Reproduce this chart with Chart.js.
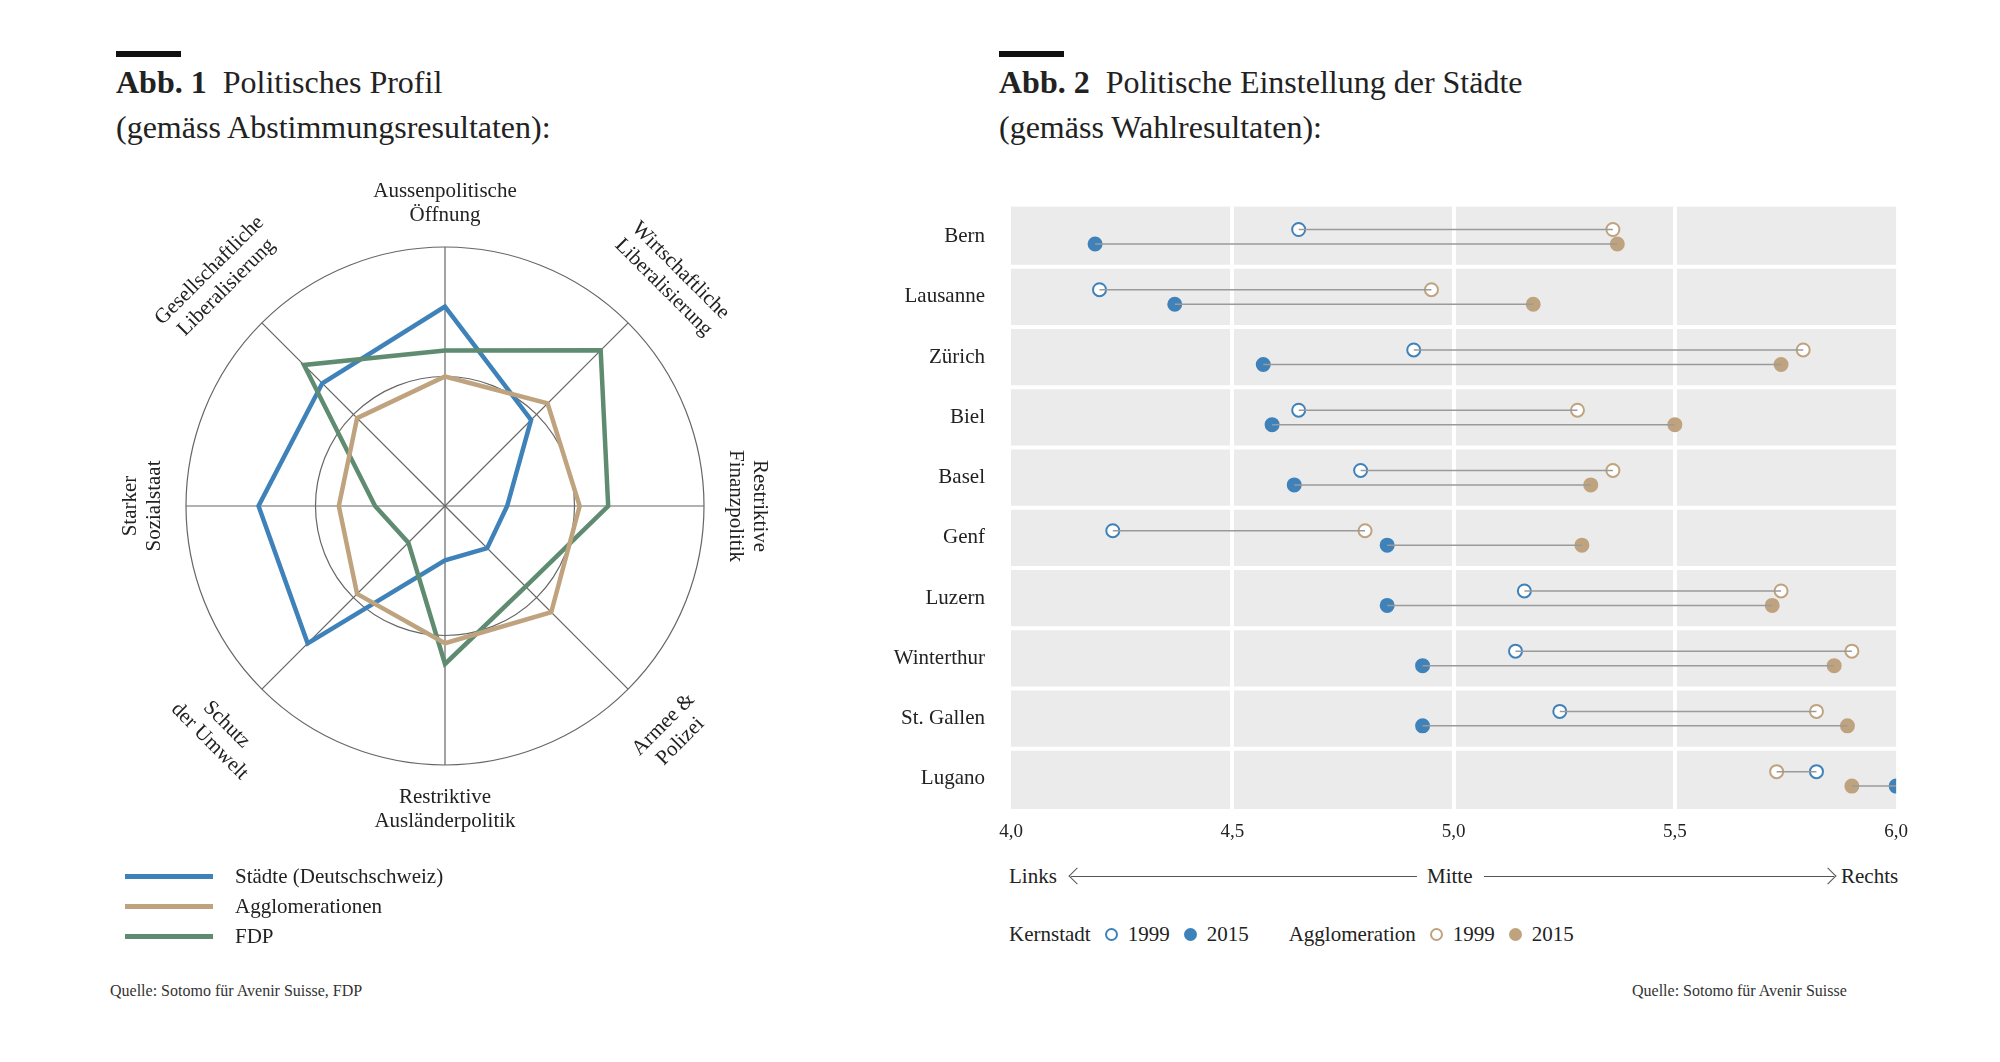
<!DOCTYPE html>
<html><head><meta charset="utf-8">
<script src="https://cdn.jsdelivr.net/npm/chart.js@4"></script>
<style>
body{margin:0;width:2000px;height:1062px;background:#fff;font-family:"Liberation Serif",serif;color:#222;position:relative;overflow:hidden}
.abs{position:absolute}
.bar{position:absolute;height:6px;width:65px;background:#111}
.title{font-size:32px;line-height:45px}
.title b{font-weight:bold}
.leg{font-size:21px;display:flex;align-items:center;height:30px}
.leg i{display:inline-block;width:88px;height:5px;margin-right:22px}
.src{font-size:16px;color:#333}
.dot{display:inline-block;width:13px;height:13px;border-radius:50%;margin:0 10px 0 14px;box-sizing:border-box}
</style></head><body>
<div class="bar" style="left:116px;top:51px"></div>
<div class="abs title" style="left:116px;top:60px"><b>Abb. 1</b>&nbsp; Politisches Profil<br>(gemäss Abstimmungsresultaten):</div>
<div class="bar" style="left:999px;top:51px"></div>
<div class="abs title" style="left:999px;top:60px"><b>Abb. 2</b>&nbsp; Politische Einstellung der Städte<br>(gemäss Wahlresultaten):</div>

<div class="abs" style="left:70px;top:136px;width:750px;height:760px"><canvas id="radar"></canvas></div>
<div class="abs" style="left:880px;top:176px;width:1040px;height:684px"><canvas id="dumb"></canvas></div>

<div class="abs" style="left:125px;top:861px">
  <div class="leg"><i style="background:#3f82b9"></i>Städte (Deutschschweiz)</div>
  <div class="leg"><i style="background:#bfa37f"></i>Agglomerationen</div>
  <div class="leg"><i style="background:#5f8c70"></i>FDP</div>
</div>
<div class="abs src" style="left:110px;top:982px">Quelle: Sotomo für Avenir Suisse, FDP</div>
<div class="abs src" style="left:1632px;top:982px">Quelle: Sotomo für Avenir Suisse</div>

<div class="abs" style="left:1009px;top:864px;width:893px;height:26px;font-size:21px">
  <span class="abs" style="left:0;top:0">Links</span>
  <span class="abs" style="left:62px;top:12px;width:346px;border-top:1px solid #555"></span>
  <span class="abs" style="left:62px;top:6px;width:11px;height:11px;border-left:1px solid #555;border-bottom:1px solid #555;transform:rotate(45deg)"></span>
  <span class="abs" style="left:418px;top:0">Mitte</span>
  <span class="abs" style="left:475px;top:12px;width:350px;border-top:1px solid #555"></span>
  <span class="abs" style="left:813px;top:6px;width:11px;height:11px;border-right:1px solid #555;border-top:1px solid #555;transform:rotate(45deg)"></span>
  <span class="abs" style="left:832px;top:0">Rechts</span>
</div>
<div class="abs" style="left:1009px;top:922px;font-size:21px;display:flex;align-items:center">
  Kernstadt<span class="dot" style="border:2px solid #3f82b9"></span>1999<span class="dot" style="background:#3f82b9"></span>2015
  <span style="margin-left:40px">Agglomeration</span><span class="dot" style="border:2px solid #bfa37f"></span>1999<span class="dot" style="background:#bfa37f"></span>2015
</div>

<script>
// radar data: axes clockwise from top
const axes = [['Aussenpolitische','Öffnung'], ['Wirtschaftliche','Liberalisierung'], ['Restriktive','Finanzpolitik'],
  ['Armee &','Polizei'], ['Restriktive','Ausländerpolitik'], ['Schutz','der Umwelt'], ['Starker','Sozialstaat'],
  ['Gesellschaftliche','Liberalisierung']];
const staedte = [77, 47, 24, 23, 21, 75, 72, 67];
const agglo = [50, 56, 52, 58, 53, 48, 41, 48];
const fdp = [60, 85, 63, 44, 61, 20, 27, 77];

// dumbbell data
const cities = ['Bern','Lausanne','Zürich','Biel','Basel','Genf','Luzern','Winterthur','St. Gallen','Lugano'];
const kern1999 = [4.65, 4.20, 4.91, 4.65, 4.79, 4.23, 5.16, 5.14, 5.24, 5.82];
const agglo1999 = [5.36, 4.95, 5.79, 5.28, 5.36, 4.80, 5.74, 5.90, 5.82, 5.73];
const kern2015 = [4.19, 4.37, 4.57, 4.59, 4.64, 4.85, 4.85, 4.93, 4.93, 6.00];
const agglo2015 = [5.37, 5.18, 5.74, 5.50, 5.31, 5.29, 5.72, 5.86, 5.89, 5.90];
const xTicks = [4.0, 4.5, 5.0, 5.5, 6.0];

const BLUE = '#3f82b9', TAN = '#bfa37f', GREEN = '#5f8c70';
const FONT = '"Liberation Serif", serif';

// rotated axis labels around the radar
const radarLabels = {
    id: 'radarLabels',
    afterDraw(chart) {
        const r = chart.scales.r;
        const ctx = chart.ctx;
        const rot = [0, 45, 90, -45, 0, 45, -90, -45];
        ctx.save();
        ctx.font = '21px ' + FONT;
        ctx.fillStyle = '#222';
        ctx.textAlign = 'center';
        ctx.textBaseline = 'middle';
        axes.forEach((lab, i) => {
            const ang = i * Math.PI / 4 - Math.PI / 2;
            const d = r.drawingArea + (i % 2 ? 62 : 44);
            const x = r.xCenter + Math.cos(ang) * d;
            const y = r.yCenter + Math.sin(ang) * d;
            ctx.save();
            ctx.translate(x, y);
            ctx.rotate(rot[i] * Math.PI / 180);
            const lh = 24;
            ctx.fillText(lab[0], 0, -lh / 2);
            ctx.fillText(lab[1], 0, lh / 2);
            ctx.restore();
        });
        ctx.restore();
    }
};

new Chart(document.getElementById('radar'), {
    type: 'radar',
    data: {
        labels: axes.map(a => a.join(' ')),
        datasets: [
            { data: agglo, borderColor: TAN, borderWidth: 4.5, pointRadius: 0, fill: false },
            { data: fdp, borderColor: GREEN, borderWidth: 4.5, pointRadius: 0, fill: false },
            { data: staedte, borderColor: BLUE, borderWidth: 4.5, pointRadius: 0, fill: false }
        ]
    },
    options: {
        responsive: true, maintainAspectRatio: false, animation: false,
        layout: { padding: { left: 116, right: 116, top: 111, bottom: 131 } },
        plugins: { legend: { display: false }, tooltip: { enabled: false } },
        scales: {
            r: {
                min: 0, max: 100,
                ticks: { display: false, stepSize: 50 },
                grid: { color: '#666', lineWidth: 1.2, circular: true },
                angleLines: { color: '#666', lineWidth: 1.2 },
                pointLabels: { display: false }
            }
        }
    },
    plugins: [radarLabels]
});

// gray background and white row separators
const bands = {
    id: 'bands',
    beforeDraw(chart) {
        const a = chart.chartArea, ctx = chart.ctx;
        ctx.save();
        ctx.fillStyle = '#ebebeb';
        ctx.fillRect(a.left, a.top, a.right - a.left, a.bottom - a.top);
        ctx.restore();
    },
    beforeDatasetsDraw(chart) {
        const a = chart.chartArea, ctx = chart.ctx, y = chart.scales.y;
        ctx.save();
        ctx.strokeStyle = '#fff';
        ctx.lineWidth = 4;
        for (let i = 1; i < cities.length; i++) {
            const py = y.getPixelForValue(i);
            ctx.beginPath(); ctx.moveTo(a.left, py); ctx.lineTo(a.right, py); ctx.stroke();
        }
        ctx.restore();
    }
};

const datasets = [];
cities.forEach((c, i) => {
    datasets.push({ type: 'line', data: [{ x: kern1999[i], y: i + 0.38 }, { x: agglo1999[i], y: i + 0.38 }],
        borderColor: '#9a9a9a', borderWidth: 1.5, pointRadius: 0 });
    datasets.push({ type: 'line', data: [{ x: kern2015[i], y: i + 0.62 }, { x: agglo2015[i], y: i + 0.62 }],
        borderColor: '#9a9a9a', borderWidth: 1.5, pointRadius: 0 });
});
const dots = (vals, off, color, filled) => ({
    type: 'scatter', data: vals.map((v, i) => ({ x: v, y: i + off })),
    pointRadius: 6.5, pointBorderWidth: 2, pointBorderColor: color,
    pointBackgroundColor: filled ? color : '#fff'
});
datasets.push(dots(kern1999, 0.38, BLUE, false), dots(agglo1999, 0.38, TAN, false),
    dots(kern2015, 0.62, BLUE, true), dots(agglo2015, 0.62, TAN, true));

new Chart(document.getElementById('dumb'), {
    type: 'scatter',
    data: { datasets },
    options: {
        responsive: true, maintainAspectRatio: false, animation: false,
        layout: { padding: { top: 5, right: 18, bottom: 0 } },
        plugins: { legend: { display: false }, tooltip: { enabled: false } },
        scales: {
            x: {
                min: 4, max: 6,
                afterBuildTicks: s => { s.ticks = xTicks.map(v => ({ value: v })); },
                afterFit: s => { s.height = 51; },
                border: { display: false },
                grid: { color: c => (c.tick && c.tick.value > 4 && c.tick.value < 6) ? '#fff' : 'rgba(0,0,0,0)', lineWidth: 4, drawTicks: false },
                ticks: { font: { family: FONT, size: 19 }, color: '#222', padding: 12,
                    callback: v => v.toFixed(1).replace('.', ',') }
            },
            y: {
                min: 0, max: 10, reverse: true,
                afterBuildTicks: s => { s.ticks = cities.map((c, i) => ({ value: i + 0.5 })); },
                afterFit: s => { s.width = 131; },
                border: { display: false },
                grid: { display: false },
                ticks: { font: { family: FONT, size: 21 }, color: '#222', padding: 18,
                    callback: v => cities[Math.round(v - 0.5)] }
            }
        }
    },
    plugins: [bands]
});
</script>
</body></html>
